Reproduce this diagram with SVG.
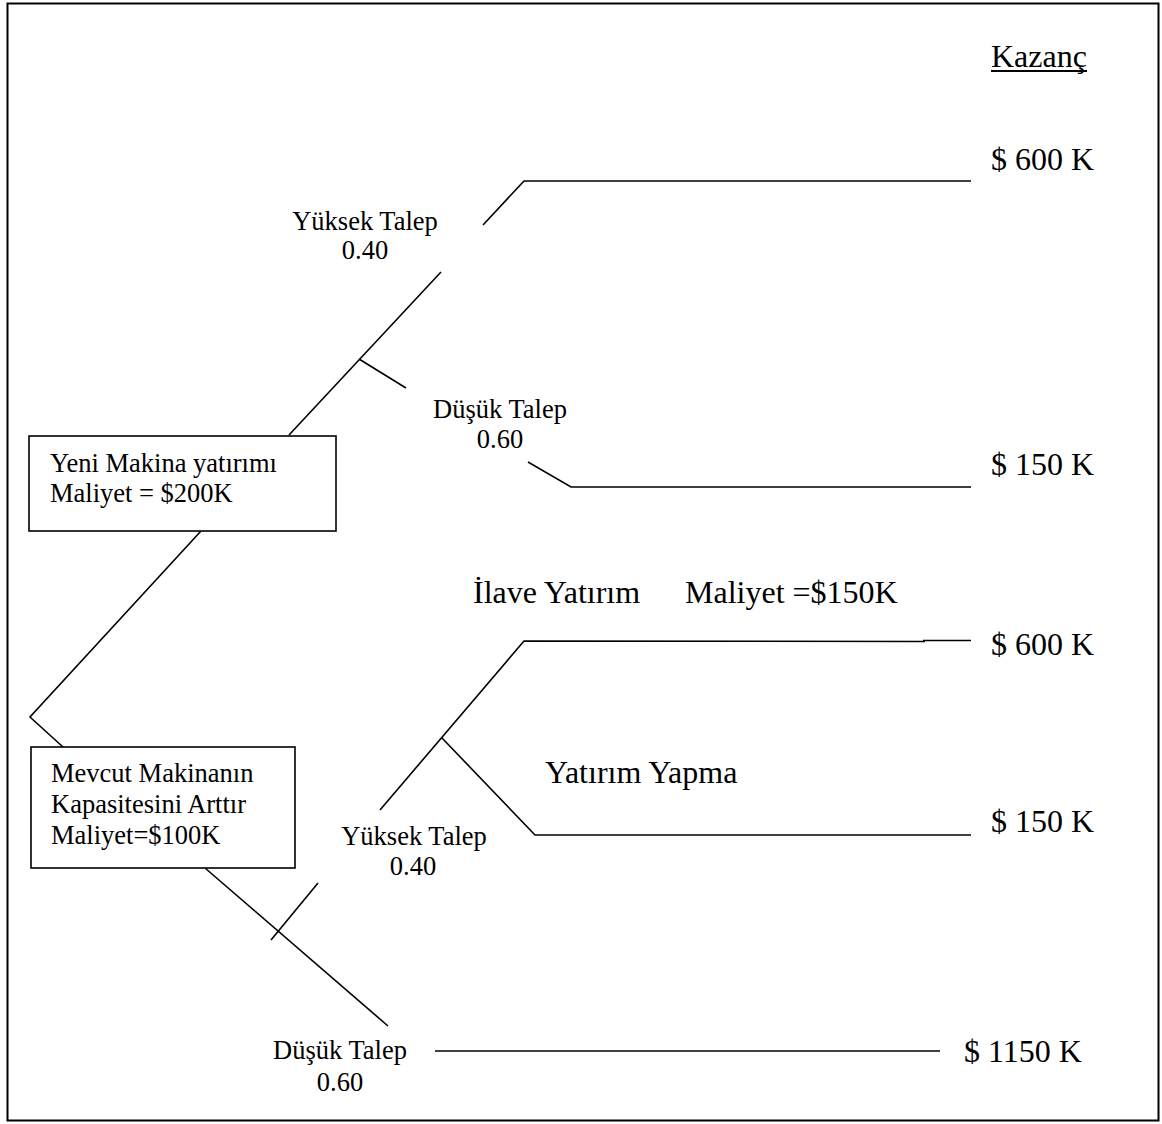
<svg xmlns="http://www.w3.org/2000/svg" width="1162" height="1124" viewBox="0 0 1162 1124">
  <style>
    text { font-family: "Liberation Serif", "Times New Roman", serif; fill: #000; }
    .lg { font-size: 32px; }
    .sm { font-size: 26.5px; }
    .mid { text-anchor: middle; }
    .edge { fill: none; stroke: #000; stroke-width: 1.6; }
    .box { fill: #fff; stroke: #000; stroke-width: 1.6; }
  </style>

  <!-- outer frame -->
  <rect x="7.5" y="3.5" width="1151" height="1117" fill="#fff" stroke="#000" stroke-width="2"/>

  <!-- column header -->
  <g id="header">
    <text class="lg" x="991" y="67">Kazanç</text>
    <line x1="991" y1="71" x2="1087" y2="71" stroke="#000" stroke-width="2"/>
  </g>

  <!-- tree branches -->
  <g id="connectors">
    <!-- new machine: high demand -->
    <polyline class="edge" points="289,435 441,272"/>
    <polyline class="edge" points="483,225 524,181 971,181"/>
    <!-- new machine: low demand -->
    <polyline class="edge" points="359,359 406,388"/>
    <polyline class="edge" points="528,462 571,487 971,487"/>
    <!-- root fork -->
    <polyline class="edge" points="201,531 30,717 63,747"/>
    <!-- expand capacity: low demand -->
    <polyline class="edge" points="205,868 388,1026"/>
    <line class="edge" x1="435" y1="1051" x2="940" y2="1051"/>
    <!-- expand capacity: high demand -->
    <polyline class="edge" points="271,940 318,883"/>
    <polyline class="edge" points="380,810 524,641 925,641.5"/>
    <line class="edge" x1="923" y1="640.5" x2="971" y2="640.5"/>
    <!-- no further investment -->
    <polyline class="edge" points="442,738 535,835 971,835"/>
  </g>

  <!-- decision nodes -->
  <g id="node-new-machine">
    <rect class="box" x="29" y="436" width="307" height="95"/>
    <text class="sm" x="50" y="472">Yeni Makina yatırımı</text>
    <text class="sm" x="50" y="502">Maliyet = $200K</text>
  </g>

  <g id="node-expand">
    <rect class="box" x="31" y="747" width="264" height="121"/>
    <text class="sm" x="51" y="782">Mevcut Makinanın</text>
    <text class="sm" x="51" y="813">Kapasitesini Arttır</text>
    <text class="sm" x="51" y="844">Maliyet=$100K</text>
  </g>

  <!-- branch labels -->
  <g id="label-new-high">
    <text class="sm mid" x="365" y="230">Yüksek Talep</text>
    <text class="sm mid" x="365" y="259">0.40</text>
  </g>
  <g id="label-new-low">
    <text class="sm mid" x="500" y="418">Düşük Talep</text>
    <text class="sm mid" x="500" y="448">0.60</text>
  </g>
  <g id="label-expand-high">
    <text class="sm mid" x="414" y="845">Yüksek Talep</text>
    <text class="sm mid" x="413" y="875">0.40</text>
  </g>
  <g id="label-expand-low">
    <text class="sm mid" x="340" y="1059">Düşük Talep</text>
    <text class="sm mid" x="340" y="1091">0.60</text>
  </g>
  <g id="label-extra-investment">
    <text class="lg" x="473" y="603">İlave Yatırım</text>
    <text class="lg" x="685" y="603">Maliyet =$150K</text>
  </g>
  <g id="label-no-investment">
    <text class="lg" x="545" y="783">Yatırım Yapma</text>
  </g>

  <!-- payoffs -->
  <g id="payoff-1"><text class="lg" x="991" y="170">$ 600 K</text></g>
  <g id="payoff-2"><text class="lg" x="991" y="475">$ 150 K</text></g>
  <g id="payoff-3"><text class="lg" x="991" y="655">$ 600 K</text></g>
  <g id="payoff-4"><text class="lg" x="991" y="832">$ 150 K</text></g>
  <g id="payoff-5"><text class="lg" x="964" y="1062">$ 1150 K</text></g>
</svg>
